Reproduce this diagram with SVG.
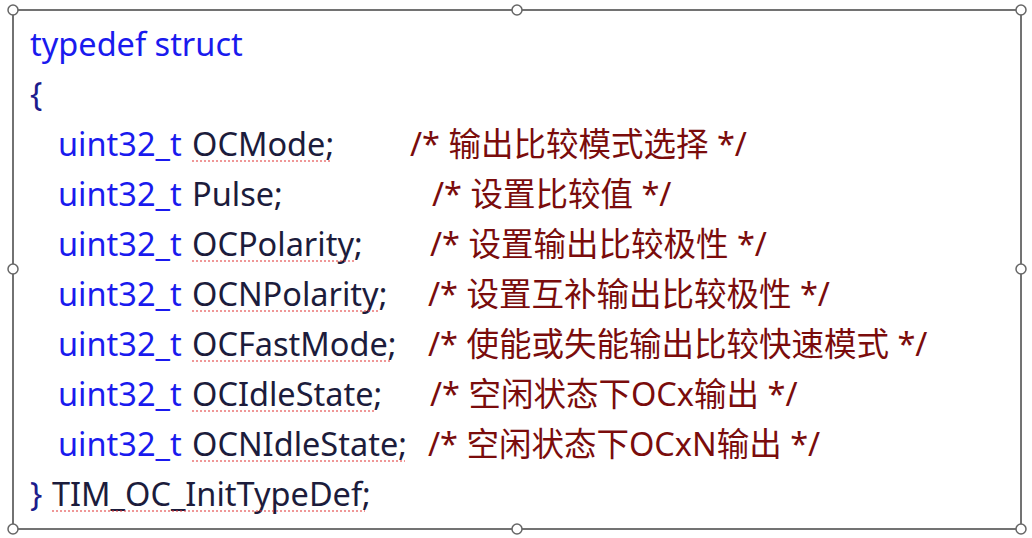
<svg xmlns="http://www.w3.org/2000/svg" width="1032" height="538" viewBox="0 0 1032 538">
<style>
text{font-family:"Noto Sans","Noto Sans CJK SC",sans-serif;font-size:32.5px}
.k{fill:#1a1aee}.n{fill:#1c1c3c}.c{fill:#7a0c0c}.b{fill:#1c1c8c}
.h{fill:#fff;stroke:#666;stroke-width:1.5}
.w{fill:none;stroke:#e03030;stroke-width:1.2;stroke-dasharray:2 2}
</style>
<rect width="1032" height="538" fill="#fff"/>
<rect x="13" y="10" width="1008" height="519" fill="none" stroke="#444" stroke-width="1.5"/>
<g id="handles">
<circle class="h" cx="13" cy="10" r="5"/><circle class="h" cx="517" cy="10" r="5"/><circle class="h" cx="1021" cy="10" r="5"/>
<circle class="h" cx="13" cy="269" r="5"/><circle class="h" cx="1021" cy="269" r="5"/>
<circle class="h" cx="13" cy="529" r="5"/><circle class="h" cx="517" cy="529" r="5"/><circle class="h" cx="1021" cy="529" r="5"/>
</g>
<g id="code">
<text x="30" y="56" class="k">typedef struct</text>
<text x="30" y="106" class="b">{</text>
<text x="58" y="156" class="k">uint32_t</text><text x="192" y="156" class="n">OCMode;</text><text x="410" y="156" class="c">/* 输出比较模式选择 */</text>
<text x="58" y="206" class="k">uint32_t</text><text x="192" y="206" class="n">Pulse;</text><text x="432" y="206" class="c">/* 设置比较值 */</text>
<text x="58" y="256" class="k">uint32_t</text><text x="192" y="256" class="n">OCPolarity;</text><text x="430" y="256" class="c">/* 设置输出比较极性 */</text>
<text x="58" y="306" class="k">uint32_t</text><text x="192" y="306" class="n">OCNPolarity;</text><text x="428" y="306" class="c">/* 设置互补输出比较极性 */</text>
<text x="58" y="356" class="k">uint32_t</text><text x="192" y="356" class="n">OCFastMode;</text><text x="428" y="356" class="c">/* 使能或失能输出比较快速模式 */</text>
<text x="58" y="406" class="k">uint32_t</text><text x="192" y="406" class="n">OCIdleState;</text><text x="430" y="406" class="c">/* 空闲状态下OCx输出 */</text>
<text x="58" y="456" class="k">uint32_t</text><text x="192" y="456" class="n">OCNIdleState;</text><text x="428" y="456" class="c">/* 空闲状态下OCxN输出 */</text>
<text x="30" y="506" class="b">}</text><text x="52" y="506" class="n">TIM_OC_InitTypeDef;</text>
</g>
<g id="squiggles">
<path class="w" d="M192 161H330M192 261H355M192 311H380M192 361H390M192 411H375M192 461H405M52 511H365"/>
</g>
</svg>
